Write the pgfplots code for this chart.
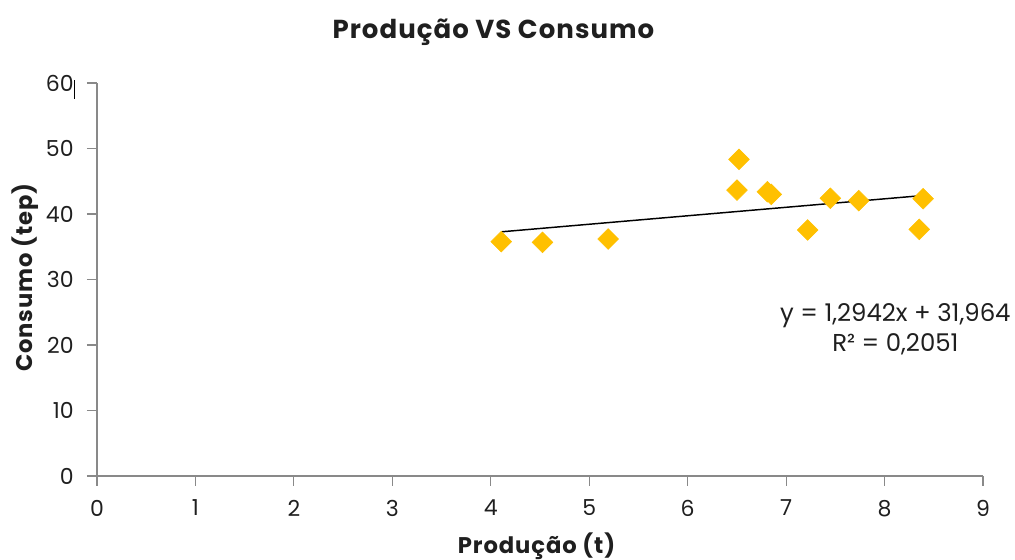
\documentclass[border=0pt]{standalone}
\usepackage{pgfplots}
\pgfplotsset{compat=1.18}
\usepackage{fontspec}
\setmainfont{Poppins}

\definecolor{axisgray}{HTML}{898989}
\definecolor{markgold}{HTML}{FFC000}
\definecolor{txt}{HTML}{1F1F1F}

% Production (t) vs consumption (tep)
\pgfplotstableread{
x      y
4.106  35.77
4.525  35.68
5.193  36.18
6.521  48.35
6.501  43.66
6.810  43.40
6.850  43.00
7.449  42.40
7.738  42.03
8.392  42.34
7.219  37.56
8.352  37.66
}\dados

\begin{document}
\begin{tikzpicture}
\useasboundingbox (0,0) rectangle (761.25pt,420pt);
\begin{axis}[
  at={(72.75pt,63pt)}, anchor=south west,
  scale only axis,
  width=664.5pt, height=294.75pt,
  xmin=0, xmax=9, ymin=0, ymax=60,
  xtick={0,1,...,9}, ytick={0,10,...,60},
  axis lines*=left,
  axis line style={axisgray, line width=0.9pt, -},
  tick style={axisgray, line width=0.9pt},
  tick align=outside,
  major tick length=7.5pt,
  /pgf/number format/assume math mode=true,
  tick label style={font=\fontsize{16.5}{18}\selectfont, text=txt},
  xticklabel style={yshift=-7pt},
  yticklabel style={xshift=-6.5pt},
  xlabel={\textbf{Produção (t)}},
  ylabel={\textbf{Consumo (tep)}},
  every axis x label/.style={at={(axis description cs:0.4966,-0.178)}, anchor=center,
    font=\fontsize{17}{19}\selectfont\addfontfeature{LetterSpace=4}, text=txt},
  every axis y label/.style={at={(axis description cs:-0.0813,0.506)}, anchor=center, rotate=90,
    font=\fontsize{17}{19}\selectfont\addfontfeature{LetterSpace=4}, text=txt},
  title={\textbf{Produção VS Consumo}},
  every axis title shift=0pt,
  title style={font=\fontsize{19.5}{22}\selectfont\addfontfeature{LetterSpace=4}, text=txt, at={(axis description cs:0.448,1.130)}, anchor=center},
  clip=false,
]
\addplot[only marks, mark=square*, mark size=5.5pt,
  mark options={rotate=45, fill=markgold, draw=markgold}]
  table[x=x, y=y] {\dados};
% linear trend: y = 1.2942x + 31.964
\addplot[black, line width=1.1pt, mark=none]
  coordinates {(4.106, 37.278) (8.410, 42.848)};
\node[align=center, font=\fontsize{18.3}{22}\selectfont, text=txt]
  at (axis cs:8.11,22.4) {y = 1,2942x + 31,964\\R² = 0,2051};
\end{axis}
% text cursor beside the top tick label
\draw[black, line width=0.8pt] (55.6pt,346pt) -- (55.6pt,360pt);
\end{tikzpicture}
\end{document}
